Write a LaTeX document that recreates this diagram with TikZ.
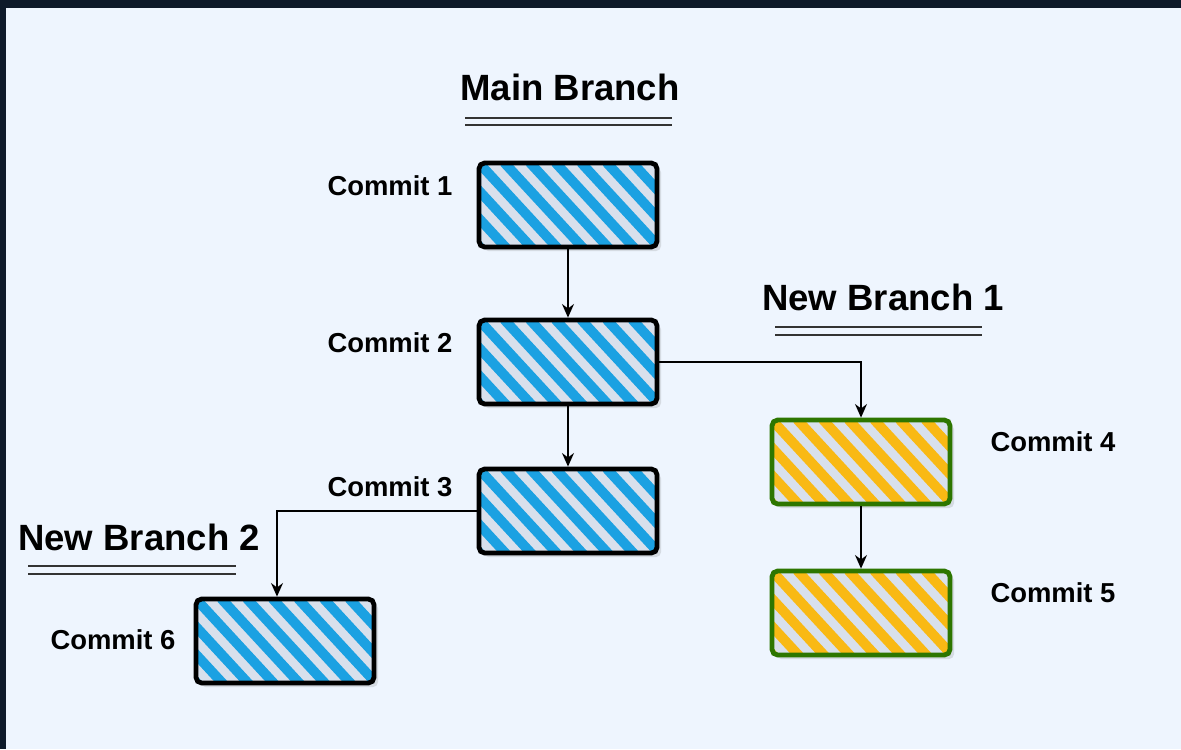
\documentclass[tikz,border=0pt]{standalone}
\usepackage{fontspec}
\setmainfont{Liberation Sans}
\usetikzlibrary{arrows.meta,shadows,calc}
\definecolor{frame}{HTML}{0E1A2A}
\definecolor{paper}{HTML}{EEF5FE}
\definecolor{hatchblue}{HTML}{1BA1E2}
\definecolor{hatchyellow}{HTML}{F9B914}
\definecolor{branchgreen}{HTML}{2D7600}
\definecolor{gapgray}{HTML}{D8E0EC}
\tikzset{
  hatch/.style={path picture={
      \foreach \k in {-4,...,8}
        \draw[#1,line width=7pt,line cap=round]
          ([xshift=\k*0.64cm]path picture bounding box.north west) -- ++(2.4cm,-2.6cm);}},
  commit/.style={draw=#1,line width=3.4pt,rounded corners=4pt,fill=gapgray,
      minimum width=4.45cm,minimum height=2.1cm,
      drop shadow={opacity=0.22,shadow xshift=3pt,shadow yshift=-3pt}},
  bluecommit/.style={commit=black,hatch=hatchblue},
  yellowcommit/.style={commit=branchgreen,hatch=hatchyellow},
  commitlabel/.style={font=\fontsize{19.5}{23}\selectfont\bfseries},
  branchtitle/.style={font=\fontsize{26}{31}\selectfont\bfseries},
  link/.style={-{Stealth[length=0.34cm,width=0.3cm]},line width=1.1pt}
}
\begin{document}
\begin{tikzpicture}
            % Frame
            \useasboundingbox (0,0) rectangle (29.525,-18.725);
            \fill[frame] (0,0) rectangle (29.525,-18.725);
            \fill[paper] (0.15,-0.2) rectangle (29.525,-18.725);
            % Coordinates
            \coordinate (P1) at (14.2,-5.125);
            \coordinate (P2) at (14.2,-9.05);
            \coordinate (P3) at (14.2,-12.775);
            \coordinate (P4) at (21.525,-11.55);
            \coordinate (P5) at (21.525,-15.325);
            \coordinate (P6) at (7.125,-16.025);
            % Titles
            \node[branchtitle] (main) at (14.25,-2.175) {Main Branch};
            \node[branchtitle] (nb1) at (22.075,-7.425) {New Branch 1};
            \node[branchtitle] (nb2) at (3.475,-13.425) {New Branch 2};
            \draw[line width=1.4pt,black!80] (11.625,-2.95) -- (16.8,-2.95) (11.625,-3.125) -- (16.8,-3.125);
            \draw[line width=1.4pt,black!80] (19.375,-8.175) -- (24.55,-8.175) (19.375,-8.375) -- (24.55,-8.375);
            \draw[line width=1.4pt,black!80] (0.7,-14.15) -- (5.9,-14.15) (0.7,-14.35) -- (5.9,-14.35);
            % Commits
            \node[bluecommit] (C1) at (P1) {};
            \node[bluecommit] (C2) at (P2) {};
            \node[bluecommit] (C3) at (P3) {};
            \node[yellowcommit] (C4) at (P4) {};
            \node[yellowcommit] (C5) at (P5) {};
            \node[bluecommit] (C6) at (P6) {};
            % Labels
            \node[commitlabel] (L1) at (9.75,-4.65) {Commit 1};
            \node[commitlabel] (L2) at (9.75,-8.575) {Commit 2};
            \node[commitlabel] (L3) at (9.75,-12.175) {Commit 3};
            \node[commitlabel] (L4) at (26.325,-11.05) {Commit 4};
            \node[commitlabel] (L5) at (26.325,-14.825) {Commit 5};
            \node[commitlabel] (L6) at (2.825,-16.0) {Commit 6};
            % draw arrows
            \draw[link] (C1) -- (C2);
            \draw[link] (C2) -- (C3);
            \draw[link] (C2.east) -| (C4.north);
            \draw[link] (C4) -- (C5);
            \draw[link] (C3.west) -| ([xshift=-0.2cm]C6.north);
        \end{tikzpicture}
\end{document}
